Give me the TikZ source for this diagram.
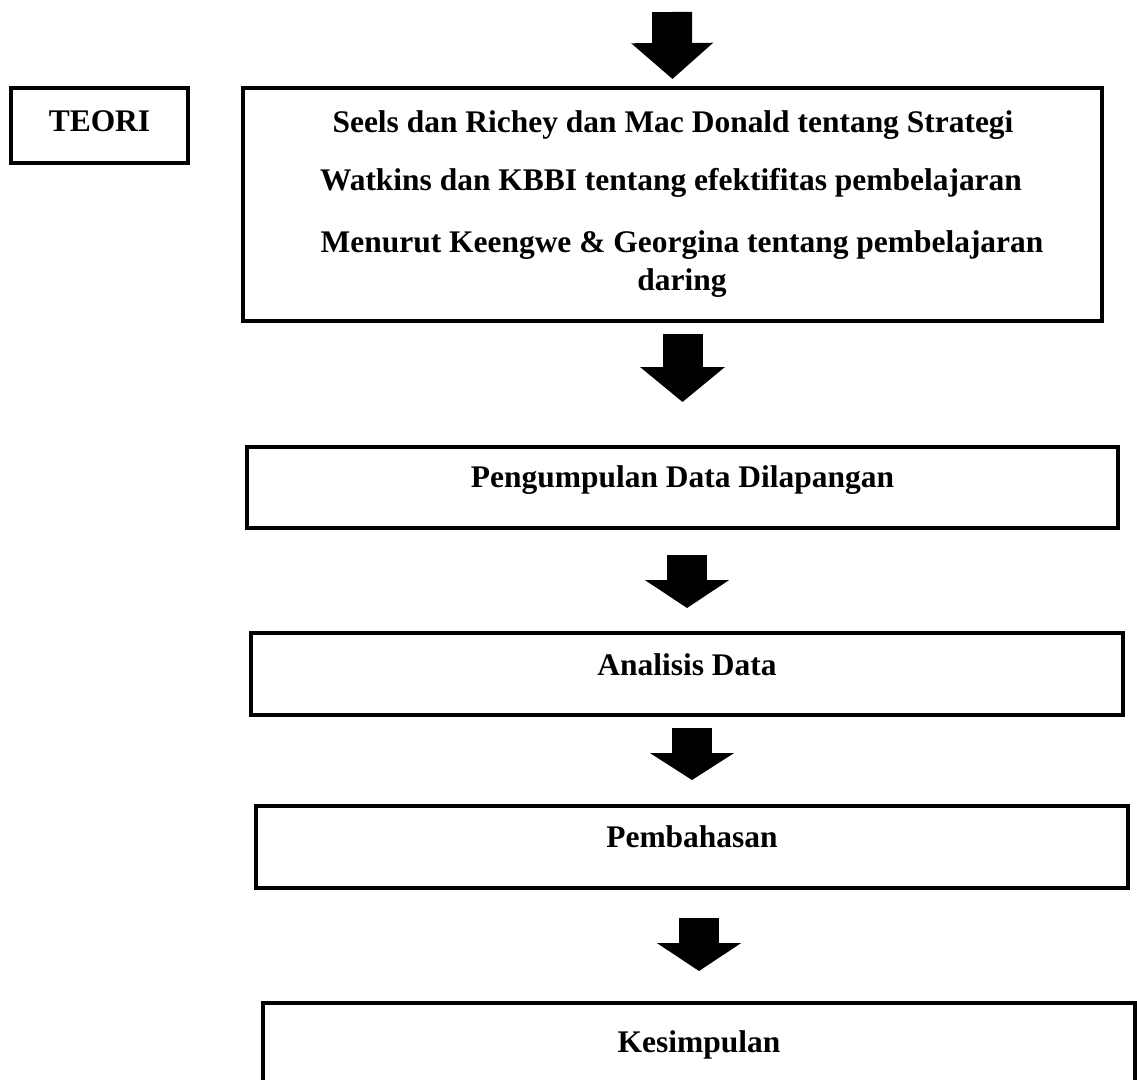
\documentclass[tikz,border=0pt]{standalone}
\usepackage{fontspec}
\setmainfont{Liberation Serif}
\usetikzlibrary{arrows.meta}
\begin{document}
\begin{tikzpicture}[x=0.75pt,y=-0.75pt,
  txt/.style={font=\fontsize{23.6pt}{28pt}\selectfont\bfseries},
  box/.style={draw, line width=2.6pt, inner sep=0pt, outer sep=0pt, txt},
  lbl/.style={inner sep=0pt, anchor=base, txt},
  blk/.style={line width=30pt, line cap=butt}]
\clip (0,0) rectangle (1137,1079);
\fill[white] (0,0) rectangle (1137,1079);
% boxes
\node[box, anchor=base, minimum width=132.75pt, text height=32.25pt, text depth=24pt] (teori) at (99.5,131) {TEORI};
\node[box, minimum width=644.25pt, minimum height=174.75pt] (main) at (672.5,204.5) {};
\node[lbl] (l1) at (673,132) {Seels dan Richey dan Mac Donald tentang Strategi};
\node[lbl] (l2) at (671,190) {Watkins dan KBBI tentang efektifitas pembelajaran};
\node[lbl] (l3) at (682,252) {Menurut Keengwe \& Georgina tentang pembelajaran};
\node[lbl] (l4) at (682,290) {daring};
\node[box, anchor=base, minimum width=653.25pt, text height=30pt, text depth=30.75pt] (data) at (682.5,487) {Pengumpulan Data Dilapangan};
\node[box, anchor=base, minimum width=654pt, text height=31.5pt, text depth=30pt] (analisis) at (687,675) {Analisis Data};
\node[box, anchor=base, minimum width=654pt, text height=30.75pt, text depth=30.75pt] (bahas) at (692,847) {Pembahasan};
\node[box, anchor=base, minimum width=654pt, text height=36.75pt, text depth=45pt] (simpul) at (699,1052) {Kesimpulan};
% block arrows
\coordinate (start) at (672,12);
\draw[blk, -{Triangle[length=27pt, width=60pt]}, shorten >=6.75pt] (start) -- (main.north);
\draw[blk, -{Triangle[length=26.25pt, width=62.25pt]}, shorten <=9.75pt, shorten >=33.75pt] (main.south -| data.north) -- (data.north);
\draw[blk, -{Triangle[length=21pt, width=62.25pt]}, shorten <=20.25pt, shorten >=18.75pt] (data.south -| analisis.north) -- (analisis.north);
\draw[blk, -{Triangle[length=20.25pt, width=62.25pt]}, shorten <=9.75pt, shorten >=19.5pt] (analisis.south -| bahas.north) -- (bahas.north);
\draw[blk, -{Triangle[length=21pt, width=62.25pt]}, shorten <=22.5pt, shorten >=24pt] (bahas.south -| simpul.north) -- (simpul.north);
\end{tikzpicture}
\end{document}
